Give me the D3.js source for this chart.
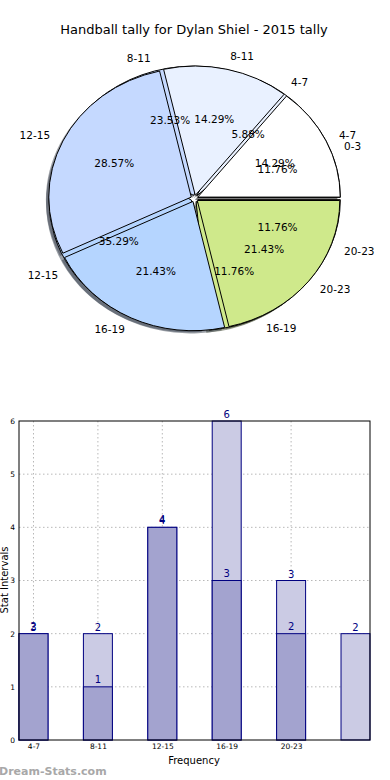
<!DOCTYPE html>
<html>
<head>
<meta charset="utf-8">
<script src="https://cdn.jsdelivr.net/npm/d3@7"></script>
<style>
  body { margin: 0; background: #fff; }
  svg { display: block; font-family: "DejaVu Sans", sans-serif; }
</style>
</head>
<body>
<div id="chart"></div>
<script>
// pie data (two tallies drawn on top of each other)
const pieCatsA = ["4-7", "8-11", "12-15", "16-19", "20-23"];
const pieValsA = [2, 2, 4, 3, 3];
const pieCatsB = ["0-3", "4-7", "8-11", "12-15", "16-19", "20-23"];
const pieValsB = [2, 1, 4, 6, 2, 2];
const pieColors = ["#ffffff", "#e9f1ff", "#c5d9ff", "#b5d5ff", "#cfe98b", "#ffd9a0"];

// bar data
const barCats = ["4-7", "8-11", "12-15", "16-19", "20-23"];
const lightVals = [2, 2, 4, 6, 3, 2];
const lightLabels = ["3", "2", "4", "6", "3", "2"];
const darkVals = [2, 1, 4, 3, 2];
const yTicks = [0, 1, 2, 3, 4, 5, 6];

const W = 390, H = 780;
const svg = d3.select('#chart').append('svg')
    .attr('width', W)
    .attr('height', H);

// title
svg.append('text')
    .attr('x', 194)
    .attr('y', 34)
    .attr('text-anchor', 'middle')
    .style('font-size', '13px')
    .text('Handball tally for Dylan Shiel - 2015 tally');

// ---- pie ----
const cx = 194.5, cy = 198.5, rx = 142.5, ry = 129.3;
const explode = 0.025;
const arc = d3.arc().innerRadius(0).outerRadius(rx);
const pie = d3.pie().sort(null).startAngle(0).endAngle(2 * Math.PI);

function wedges(vals, cats) {
    const total = d3.sum(vals);
    return pie(vals).map((p, i) => {
        const tm = (p.startAngle + p.endAngle) / 2;
        return {
            i: i,
            cat: cats[i],
            pct: (vals[i] / total * 100).toFixed(2) + '%',
            t0: p.startAngle, t1: p.endAngle, tm: tm,
            ox: explode * rx * Math.cos(tm),
            oy: -explode * ry * Math.sin(tm)
        };
    });
}
const wB = wedges(pieValsB, pieCatsB);
const wA = wedges(pieValsA, pieCatsA);

function wedgePath(d) {
    return arc({ startAngle: Math.PI / 2 - d.t1, endAngle: Math.PI / 2 - d.t0 });
}

const pieG = svg.append('g');

// shadows under everything
[wB, wA].forEach(ws => {
    pieG.append('g').selectAll('path')
        .data(ws)
        .enter()
        .append('path')
        .attr('transform', d => `translate(${cx + d.ox - 2.9}, ${cy + d.oy + 2.7}) scale(1, ${ry / rx})`)
        .attr('d', wedgePath)
        .attr('fill', d => {
            const c = d3.rgb(pieColors[d.i]);
            return d3.rgb(c.r * 0.3, c.g * 0.3, c.b * 0.3);
        })
        .attr('opacity', 0.5);
});

// wedges: tally B first, then A on top
[wB, wA].forEach(ws => {
    pieG.append('g').selectAll('path')
        .data(ws)
        .enter()
        .append('path')
        .attr('transform', d => `translate(${cx + d.ox}, ${cy + d.oy}) scale(1, ${ry / rx})`)
        .attr('d', wedgePath)
        .attr('fill', d => pieColors[d.i])
        .attr('stroke', '#000')
        .attr('stroke-width', 1)
        .attr('vector-effect', 'non-scaling-stroke');
});

// labels and percentages
[wB, wA].forEach(ws => {
    const g = pieG.append('g').selectAll('g').data(ws).enter().append('g');
    g.append('text')
        .attr('x', d => cx + d.ox + 1.1 * rx * Math.cos(d.tm))
        .attr('y', d => cy + d.oy - 1.1 * ry * Math.sin(d.tm))
        .attr('dy', '0.35em')
        .attr('text-anchor', d => Math.cos(d.tm) > 0 ? 'start' : 'end')
        .style('font-size', '10.5px')
        .text(d => d.cat);
    g.append('text')
        .attr('x', d => cx + d.ox + 0.6 * rx * Math.cos(d.tm))
        .attr('y', d => cy + d.oy - 0.6 * ry * Math.sin(d.tm))
        .attr('dy', '0.35em')
        .attr('text-anchor', 'middle')
        .style('font-size', '10.5px')
        .text(d => d.pct);
});

// ---- bar chart ----
const plotL = 19, plotR = 370, plotT = 421, plotB = 740;
const barW = 0.45;
const xScale = d3.scaleLinear([-barW / 2, 5 + barW / 2], [plotL, plotR]);
const yScale = d3.scaleLinear([0, 6], [plotB, plotT]);

const barG = svg.append('g');

// grid
barG.append('g').selectAll('line')
    .data(yTicks.slice(1, -1))
    .enter()
    .append('line')
    .attr('x1', plotL).attr('x2', plotR)
    .attr('y1', d => yScale(d)).attr('y2', d => yScale(d))
    .attr('stroke', '#b8b8b8')
    .attr('stroke-dasharray', '1.5,2.5');
barG.append('g').selectAll('line')
    .data(barCats.map((c, i) => i))
    .enter()
    .append('line')
    .attr('x1', d => xScale(d)).attr('x2', d => xScale(d))
    .attr('y1', plotT).attr('y2', plotB)
    .attr('stroke', '#b8b8b8')
    .attr('stroke-dasharray', '1.5,2.5');

// bars: light series behind, dark in front
barG.append('g').selectAll('rect')
    .data(lightVals)
    .enter()
    .append('rect')
    .attr('x', (d, i) => xScale(i - barW / 2))
    .attr('y', d => yScale(d))
    .attr('width', xScale(barW) - xScale(0))
    .attr('height', d => yScale(0) - yScale(d))
    .attr('fill', '#cbcbe4')
    .attr('stroke', '#000080')
    .attr('stroke-width', 1);
barG.append('g').selectAll('rect')
    .data(darkVals)
    .enter()
    .append('rect')
    .attr('x', (d, i) => xScale(i - barW / 2))
    .attr('y', d => yScale(d))
    .attr('width', xScale(barW) - xScale(0))
    .attr('height', d => yScale(0) - yScale(d))
    .attr('fill', '#a3a3cf')
    .attr('stroke', '#000080')
    .attr('stroke-width', 1);

// value labels
barG.append('g').selectAll('text')
    .data(lightVals)
    .enter()
    .append('text')
    .attr('x', (d, i) => xScale(i))
    .attr('y', d => yScale(d) - 3)
    .attr('text-anchor', 'middle')
    .attr('fill', '#000080')
    .style('font-size', '10px')
    .text((d, i) => lightLabels[i]);
barG.append('g').selectAll('text')
    .data(darkVals)
    .enter()
    .append('text')
    .attr('x', (d, i) => xScale(i))
    .attr('y', d => yScale(d) - 4)
    .attr('text-anchor', 'middle')
    .attr('fill', '#000080')
    .style('font-size', '10px')
    .text(d => d);

// frame
barG.append('rect')
    .attr('x', plotL).attr('y', plotT)
    .attr('width', plotR - plotL).attr('height', plotB - plotT)
    .attr('fill', 'none')
    .attr('stroke', '#000')
    .attr('stroke-width', 1);

// axes
const yAxis = d3.axisLeft(yScale).tickValues(yTicks).tickFormat(d3.format('d')).tickSize(0).tickPadding(4);
const yg = barG.append('g').attr('transform', `translate(${plotL}, 0)`).call(yAxis);
yg.select('.domain').remove();
yg.selectAll('text').style('font-size', '7.5px').style('font-family', '"DejaVu Sans", sans-serif');

const xAxis = d3.axisBottom(xScale)
    .tickValues(barCats.map((c, i) => i))
    .tickFormat(i => barCats[i])
    .tickSize(0).tickPadding(4);
const xg = barG.append('g').attr('transform', `translate(0, ${plotB})`).call(xAxis);
xg.select('.domain').remove();
xg.selectAll('text').style('font-size', '7.5px').style('font-family', '"DejaVu Sans", sans-serif');

// axis titles
svg.append('text')
    .attr('x', 194)
    .attr('y', 764)
    .attr('text-anchor', 'middle')
    .style('font-size', '10px')
    .text('Frequency');
svg.append('text')
    .attr('transform', `translate(8, 580) rotate(-90)`)
    .attr('text-anchor', 'middle')
    .style('font-size', '10px')
    .text('Stat Intervals');

// watermark
svg.append('text')
    .attr('x', -1)
    .attr('y', 775)
    .attr('fill', '#a8a8a8')
    .style('font-size', '11px')
    .style('font-weight', '600')
    .text('Dream-Stats.com');
</script>
</body>
</html>
